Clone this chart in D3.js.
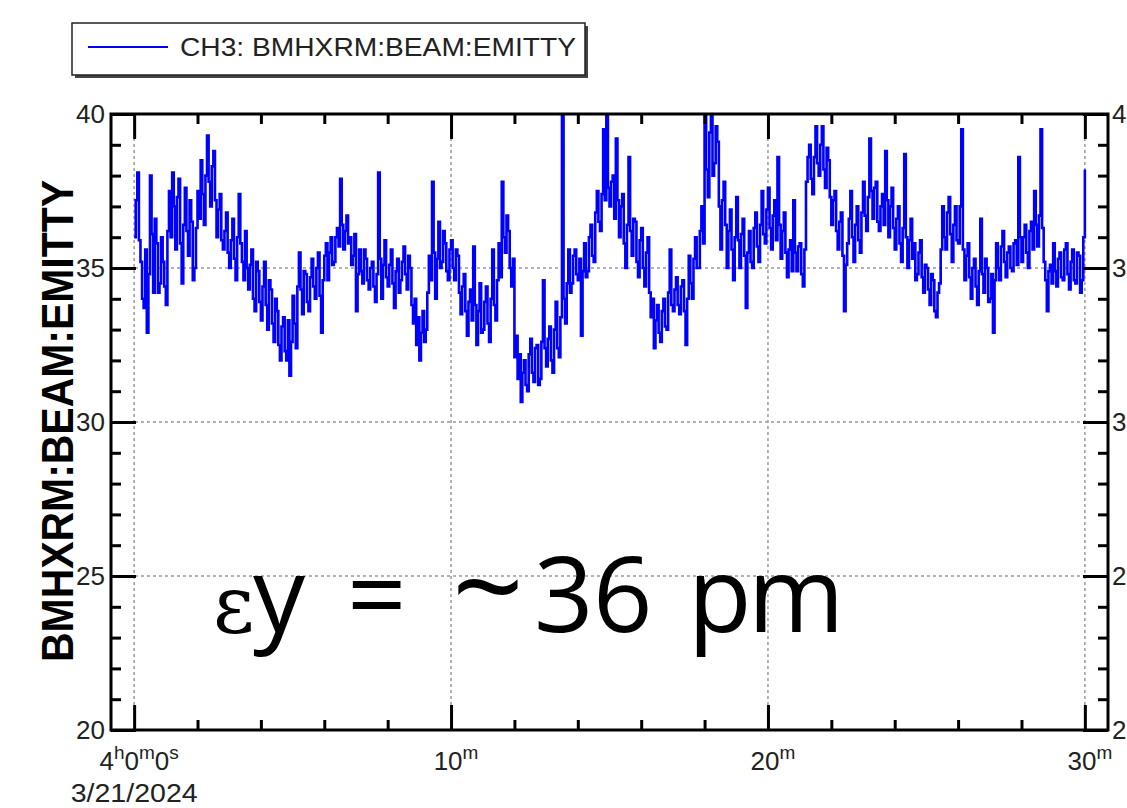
<!DOCTYPE html>
<html>
<head>
<meta charset="utf-8">
<script src="https://cdn.jsdelivr.net/npm/d3@7"></script>
<style>
  body { margin: 0; background: #fff; }
  svg { display: block; }
</style>
</head>
<body>
<div id="wrapper"></div>
<script>
// minutes after 4h00m00s, one reading every 0.05 min (3 s)
const sampleStep = 0.05;
const emitty = [
  // 0 min
  36.0,37.2,38.1,35.9,35.2,34.0,33.7,35.6,32.9,34.8,38.0,36.1,34.2,36.6,35.8,34.2,34.5,36.0,35.2,34.4,
  33.8,36.2,37.5,36.0,38.1,37.0,35.6,37.3,37.9,35.8,34.5,36.4,37.6,36.2,35.4,37.2,36.5,34.6,35.0,36.3,
  37.5,36.6,38.5,37.4,36.4,38.0,39.3,37.8,37.0,38.3,38.8,37.2,36.0,36.9,37.4,35.9,35.6,36.2,36.8,35.5,
  35.0,35.9,36.6,35.3,34.6,36.0,37.4,35.8,35.2,34.6,36.2,35.0,34.3,35.1,35.6,34.0,33.6,35.2,34.9,33.9,
  33.3,34.4,35.2,33.8,33.0,34.6,34.3,33.2,32.6,34.0,33.6,32.5,32.0,33.1,33.4,32.3,32.0,33.3,31.5,32.6,
  // 5 min
  34.1,33.2,32.4,34.4,35.5,34.3,33.5,34.9,34.8,33.9,33.6,34.7,35.3,34.4,34.0,35.0,35.5,34.1,32.9,34.6,
  35.4,35.8,34.6,35.5,36.0,35.1,35.2,36.0,36.3,35.7,37.9,36.4,35.6,36.2,36.7,35.8,36.0,35.1,35.4,36.1,
  33.6,34.8,35.6,34.9,34.5,35.6,35.3,34.6,34.3,35.0,35.2,34.4,33.9,34.8,38.1,35.3,34.0,35.1,35.9,34.7,
  34.4,35.1,35.6,34.5,33.7,34.9,35.3,34.2,34.6,35.2,35.7,34.8,34.3,35.4,35.0,33.8,33.2,34.0,32.5,33.4,
  32.0,32.9,33.6,32.6,33.0,34.2,35.4,34.6,37.8,35.5,34.0,35.3,36.5,35.0,35.2,36.2,35.8,34.9,34.6,35.6,
  // 10 min
  35.9,35.0,34.6,35.6,35.4,34.2,33.5,34.4,34.8,33.6,32.8,33.9,34.3,33.3,35.7,33.8,32.5,33.6,34.5,32.9,
  33.0,33.9,34.4,33.2,32.6,34.0,35.6,33.8,33.3,34.6,35.8,34.7,37.8,36.0,35.5,36.7,36.2,35.0,34.4,35.3,
  32.1,32.8,31.4,32.2,30.65,31.6,32.0,31.2,31.0,32.2,32.7,31.6,31.3,32.4,32.5,31.2,31.4,32.6,34.6,32.4,
  31.8,32.7,33.1,32.0,31.6,33.0,33.9,32.4,32.1,33.4,40.1,34.0,33.2,34.5,35.6,34.2,34.5,35.4,35.6,34.8,
  34.6,35.3,32.8,34.9,35.8,34.7,34.9,36.0,36.4,35.4,35.2,36.8,37.5,36.5,36.2,37.4,39.5,37.2,40.1,37.6,
  // 15 min
  37.0,37.8,38.0,36.6,39.2,37.2,36.0,37.0,37.4,35.8,35.0,36.4,38.6,36.2,35.4,36.6,36.5,35.2,34.7,35.9,
  36.3,35.0,34.4,35.5,36.0,34.2,33.4,34.0,32.4,33.3,33.8,32.9,32.6,33.6,34.0,33.1,33.0,34.2,35.6,33.8,
  33.6,34.3,34.7,33.8,33.5,34.4,34.6,33.6,32.5,34.0,35.4,34.5,34.0,35.3,36.0,35.0,35.0,36.2,37.0,35.8,
  40.1,38.2,37.3,39.4,40.1,38.0,38.4,39.6,39.1,37.0,35.6,37.2,37.8,36.4,35.0,36.2,36.9,35.6,34.6,36.0,
  37.3,35.9,35.0,36.1,36.6,35.4,33.7,35.5,36.2,35.2,35.0,36.3,36.8,35.7,35.2,36.4,37.5,36.1,35.8,36.9,
  // 20 min
  37.6,36.3,35.6,36.7,37.2,35.9,38.6,36.4,35.3,36.2,36.8,35.5,34.7,35.6,35.9,34.9,37.2,35.5,34.9,35.7,
  35.8,34.8,34.4,35.6,37.8,38.6,39.0,37.9,37.4,38.6,39.6,38.4,38.0,39.0,39.6,38.2,37.6,38.9,38.5,37.3,
  36.4,37.2,37.5,36.2,35.6,36.5,36.8,35.4,33.6,35.1,35.8,36.6,37.5,36.0,35.2,36.4,37.0,35.9,35.5,36.8,
  37.8,36.7,36.2,37.3,39.2,37.5,36.6,37.6,37.8,36.5,36.2,37.0,37.4,36.4,38.8,37.2,36.0,37.0,37.6,36.3,
  35.6,36.6,37.0,35.8,35.2,36.3,38.7,36.0,35.0,35.9,36.6,35.3,35.8,34.6,34.8,35.5,35.9,34.7,34.2,35.1,
  // 25 min
  35.0,34.3,33.8,34.8,34.6,33.6,33.4,34.2,34.5,35.6,37.0,36.0,35.6,36.8,37.3,36.1,35.2,36.4,37.0,35.9,
  35.8,37.0,39.5,35.6,34.6,35.4,35.8,34.7,34.0,35.0,35.3,34.4,33.8,34.9,36.6,34.8,34.2,35.3,35.0,33.9,
  34.0,34.8,32.9,34.6,35.8,35.0,34.6,35.7,36.2,35.2,34.7,35.5,35.7,35.0,34.9,35.8,35.9,35.1,38.6,36.0,
  35.2,36.0,36.4,35.5,35.0,36.2,36.5,35.6,37.5,36.4,35.7,36.7,39.5,36.3,35.2,34.6,33.6,34.9,35.1,34.5,
  35.8,34.9,34.4,35.3,35.5,34.7,34.6,35.6,35.8,34.8,34.3,35.2,35.6,34.6,34.5,35.5,35.4,34.2,34.6,36.0,
  38.2
];

const xMajorTicks = [0, 10, 20, 30];
const xMinorTicks = [2, 4, 6, 8, 12, 14, 16, 18, 22, 24, 26, 28];
const yMajorTicks = [20, 25, 30, 35, 40];
const yMinorTicks = [21,22,23,24,26,27,28,29,31,32,33,34,36,37,38,39];
const yGridValues = [25, 30, 35];
// right-hand labels are cut at the image edge: only the first digit shows
const rightTickLabels = ["2", "2", "3", "3", "4"];
const xTickLabels = [
  [["4", 0], ["h", 1], ["0", 0], ["m", 1], ["0", 0], ["s", 1]],
  [["10", 0], ["m", 1]],
  [["20", 0], ["m", 1]],
  [["30", 0], ["m", 1]]
];
const dateLabel = "3/21/2024";
const legendLabel = "CH3: BMHXRM:BEAM:EMITTY";
const yTitle = "BMHXRM:BEAM:EMITTY";
const noteGlyphs = [
  ["ε", 213, "serif", 80], ["y", 253, "sans", 104], ["=", 347, "sans", 104], ["~", 452, "sans", 126],
  ["3", 534, "sans", 104], ["6", 593, "sans", 104], ["p", 688, "sans", 104], ["m", 748, "sans", 104]
];

let dimensions = {
  width: 1127,
  height: 808,
  margin: { top: 114, right: 19, bottom: 78, left: 111 }
};
dimensions.boundedWidth = dimensions.width - dimensions.margin.left - dimensions.margin.right;
dimensions.boundedHeight = dimensions.height - dimensions.margin.top - dimensions.margin.bottom;

const dataSet = emitty.map((v, i) => ({ t: i * sampleStep, v: v }));

const font = "'Liberation Sans', Arial, sans-serif";

const wrapper = d3.select("#wrapper")
  .append("svg")
  .attr("width", dimensions.width)
  .attr("height", dimensions.height)
  .style("font-family", font);

const bounds = wrapper.append("g")
  .attr("transform", `translate(${dimensions.margin.left},${dimensions.margin.top})`);

const xScale = d3.scaleLinear()
  .domain([-0.73, 30.73])
  .range([0, dimensions.boundedWidth]);

const yScale = d3.scaleLinear()
  .domain([20, 40])
  .range([dimensions.boundedHeight, 0]);

// grid
bounds.append("g")
  .selectAll("line")
  .data(xMajorTicks)
  .join("line")
  .attr("x1", d => xScale(d)).attr("x2", d => xScale(d))
  .attr("y1", 0).attr("y2", dimensions.boundedHeight)
  .attr("stroke", "#999").attr("stroke-width", 1.5)
  .attr("stroke-dasharray", "3,3");

bounds.append("g")
  .selectAll("line")
  .data(yGridValues)
  .join("line")
  .attr("x1", 0).attr("x2", dimensions.boundedWidth)
  .attr("y1", d => yScale(d)).attr("y2", d => yScale(d))
  .attr("stroke", "#999").attr("stroke-width", 1.5)
  .attr("stroke-dasharray", "3,3");

// note text, one glyph per tspan so spacing follows the picture
const note = bounds.append("text")
  .attr("y", 632 - dimensions.margin.top)
  .attr("fill", "#000");
noteGlyphs.forEach(([txt, x, kind, size]) => {
  note.append("tspan")
    .attr("x", x - dimensions.margin.left)
    .style("font-family", kind === "serif" ? "'DejaVu Serif', 'Liberation Serif', serif" : "'Open Sans', 'Noto Sans', sans-serif")
    .attr("font-size", size)
    .text(txt);
});

// data line
bounds.append("clipPath").attr("id", "clip")
  .append("rect")
  .attr("width", dimensions.boundedWidth)
  .attr("height", dimensions.boundedHeight);

const lineGenerator = d3.line()
  .x(d => xScale(d.t))
  .y(d => yScale(d.v))
  .curve(d3.curveStepAfter);

bounds.append("path")
  .datum(dataSet)
  .attr("clip-path", "url(#clip)")
  .attr("d", lineGenerator)
  .attr("fill", "none")
  .attr("stroke", "#0000ff")
  .attr("stroke-width", 2.6);

// ticks
function drawTicks(generator, translate) {
  const g = bounds.append("g")
    .attr("transform", translate)
    .call(generator);
  g.select(".domain").remove();
  g.selectAll(".tick line").attr("stroke", "#000").attr("stroke-width", 3);
  g.selectAll(".tick text").remove();
}

drawTicks(d3.axisBottom(xScale).tickValues(xMajorTicks).tickSize(-25), `translate(0,${dimensions.boundedHeight})`);
drawTicks(d3.axisBottom(xScale).tickValues(xMinorTicks).tickSize(-10), `translate(0,${dimensions.boundedHeight})`);
drawTicks(d3.axisTop(xScale).tickValues(xMajorTicks).tickSize(-25), "translate(0,0)");
drawTicks(d3.axisTop(xScale).tickValues(xMinorTicks).tickSize(-10), "translate(0,0)");
drawTicks(d3.axisLeft(yScale).tickValues(yMajorTicks).tickSize(-25), "translate(0,0)");
drawTicks(d3.axisLeft(yScale).tickValues(yMinorTicks).tickSize(-10), "translate(0,0)");
drawTicks(d3.axisRight(yScale).tickValues(yMajorTicks).tickSize(-25), `translate(${dimensions.boundedWidth},0)`);
drawTicks(d3.axisRight(yScale).tickValues(yMinorTicks).tickSize(-10), `translate(${dimensions.boundedWidth},0)`);

// frame
bounds.append("rect")
  .attr("width", dimensions.boundedWidth)
  .attr("height", dimensions.boundedHeight)
  .attr("fill", "none")
  .attr("stroke", "#000")
  .attr("stroke-width", 3);

// y tick labels
bounds.append("g")
  .selectAll("text")
  .data(yMajorTicks)
  .join("text")
  .attr("x", -6)
  .attr("y", d => yScale(d))
  .attr("dy", "0.36em")
  .attr("text-anchor", "end")
  .attr("font-size", 26)
  .attr("fill", "#222")
  .text(d => d);

bounds.append("g")
  .selectAll("text")
  .data(yMajorTicks)
  .join("text")
  .attr("x", dimensions.boundedWidth + 4)
  .attr("y", d => yScale(d))
  .attr("dy", "0.36em")
  .attr("font-size", 26)
  .attr("fill", "#222")
  .text((d, i) => rightTickLabels[i]);

// x tick labels with superscript units
bounds.append("g")
  .selectAll("text")
  .data(xMajorTicks)
  .join("text")
  .attr("x", d => xScale(d) + 5)
  .attr("y", dimensions.boundedHeight + 40)
  .attr("text-anchor", "middle")
  .attr("font-size", 26)
  .attr("fill", "#222")
  .each(function(d, i) {
    let raised = 0;
    xTickLabels[i].forEach(([txt, sup]) => {
      const shift = sup ? -11 : 0;
      d3.select(this).append("tspan")
        .attr("dy", shift - raised)
        .attr("font-size", sup ? 19 : 26)
        .text(txt);
      raised = shift;
    });
  });

bounds.append("text")
  .attr("x", xScale(0))
  .attr("y", dimensions.boundedHeight + 72)
  .attr("text-anchor", "middle")
  .attr("font-size", 25)
  .attr("textLength", 127)
  .attr("lengthAdjust", "spacingAndGlyphs")
  .attr("fill", "#222")
  .text(dateLabel);

// y title
wrapper.append("text")
  .attr("transform", "translate(57,421) rotate(-90)")
  .attr("text-anchor", "middle")
  .attr("dy", "0.36em")
  .attr("font-size", 44)
  .attr("font-weight", "bold")
  .attr("textLength", 482)
  .attr("lengthAdjust", "spacingAndGlyphs")
  .attr("fill", "#000")
  .text(yTitle);

// legend
const legend = wrapper.append("g");
legend.append("rect")
  .attr("x", 75).attr("y", 26)
  .attr("width", 513).attr("height", 52)
  .attr("fill", "#444");
legend.append("rect")
  .attr("x", 72).attr("y", 23)
  .attr("width", 513).attr("height", 52)
  .attr("fill", "#fff")
  .attr("stroke", "#222")
  .attr("stroke-width", 1.5);
legend.append("line")
  .attr("x1", 88).attr("x2", 168)
  .attr("y1", 47).attr("y2", 47)
  .attr("stroke", "#0000ff")
  .attr("stroke-width", 2);
legend.append("text")
  .attr("x", 180)
  .attr("y", 56)
  .attr("font-size", 26)
  .attr("textLength", 396)
  .attr("lengthAdjust", "spacingAndGlyphs")
  .attr("fill", "#222")
  .text(legendLabel);
</script>
</body>
</html>
